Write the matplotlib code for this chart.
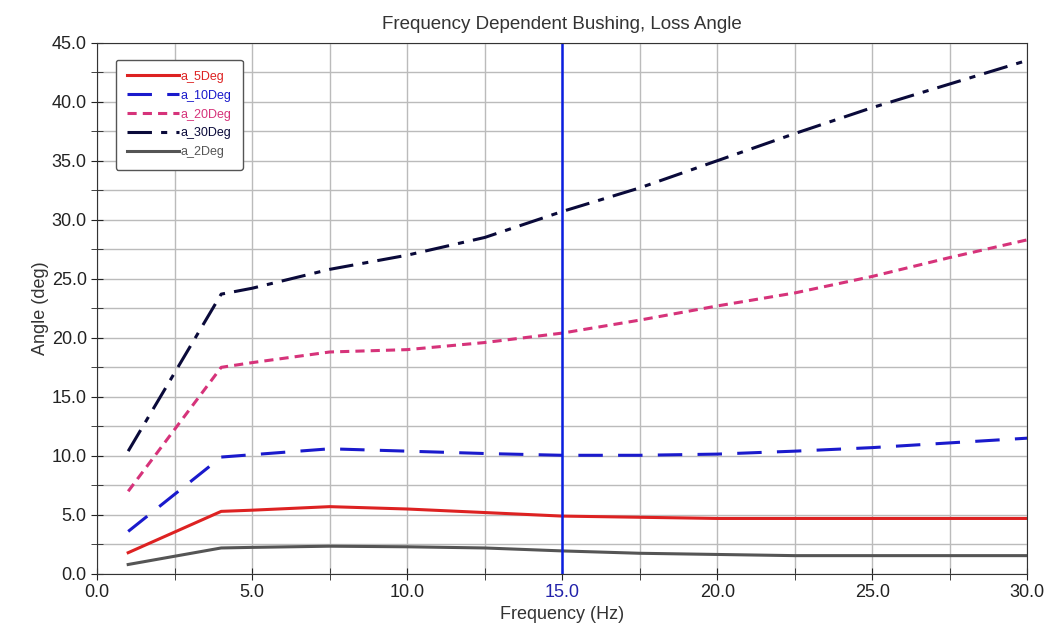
import numpy as np
import matplotlib.pyplot as plt
from matplotlib.ticker import MultipleLocator, FormatStrFormatter

plt.rcParams['font.family'] = ['Liberation Sans', 'DejaVu Sans']

# Datos
freq = [1.0, 4.0, 5.0, 7.5, 10.0, 12.5, 15.0, 17.5, 20.0, 22.5, 25.0, 27.5, 30.0]
a_5deg = [1.8, 5.3, 5.4, 5.7, 5.5, 5.2, 4.9, 4.8, 4.7, 4.7, 4.7, 4.7, 4.7]
a_10deg = [3.6, 9.9, 10.1, 10.6, 10.4, 10.2, 10.05, 10.05, 10.15, 10.4, 10.7, 11.1, 11.5]
a_20deg = [7.0, 17.5, 17.9, 18.8, 19.0, 19.6, 20.4, 21.5, 22.7, 23.8, 25.2, 26.8, 28.3]
a_30deg = [10.4, 23.7, 24.2, 25.8, 27.0, 28.5, 30.7, 32.7, 35.0, 37.3, 39.5, 41.5, 43.5]
a_2deg = [0.8, 2.2, 2.25, 2.35, 2.3, 2.2, 1.95, 1.75, 1.65, 1.55, 1.55, 1.55, 1.55]
marker_freq = 15.0

fig = plt.figure(figsize=(10.45, 6.37), dpi=100)
ax = fig.add_axes([0.093, 0.099, 0.890, 0.834])

ax.plot(freq, a_5deg, color='#dd2222', lw=2.2, label='a_5Deg')
ax.plot(freq, a_10deg, color='#1a1acc', lw=2.2, dashes=(8, 5), label='a_10Deg')
ax.plot(freq, a_20deg, color='#d6337a', lw=2.2, dashes=(3, 2), label='a_20Deg')
ax.plot(freq, a_30deg, color='#0a0a3a', lw=2.2, dashes=(8, 3, 2, 3), label='a_30Deg')
ax.plot(freq, a_2deg, color='#555555', lw=2.2, label='a_2Deg')
ax.axvline(marker_freq, color='#0a1ee0', lw=1.8)

ax.set_xlim(0, 30)
ax.set_ylim(0, 45)
ax.xaxis.set_major_locator(MultipleLocator(5))
ax.xaxis.set_minor_locator(MultipleLocator(2.5))
ax.yaxis.set_major_locator(MultipleLocator(5))
ax.yaxis.set_minor_locator(MultipleLocator(2.5))
ax.xaxis.set_major_formatter(FormatStrFormatter('%.1f'))
ax.yaxis.set_major_formatter(FormatStrFormatter('%.1f'))
ax.grid(True, which='both', color='#bbbbbb', lw=1)
ax.tick_params(which='both', direction='inout', length=8, labelsize=13, colors='#222222')
for lbl in ax.get_xticklabels():
    if lbl.get_text() == '15.0':
        lbl.set_color('#2222aa')
for s in ax.spines.values():
    s.set_color('#333333')

ax.set_title('Frequency Dependent Bushing, Loss Angle', fontsize=13.5, color='#333333', pad=10)
ax.set_xlabel('Frequency (Hz)', fontsize=13, color='#333333', labelpad=3)
ax.set_ylabel('Angle (deg)', fontsize=13, color='#333333', labelpad=2)

leg = ax.legend(loc='upper left', fontsize=9, handlelength=4.2, handletextpad=0.1,
                labelspacing=0.55, borderpad=0.9, fancybox=True, framealpha=1,
                edgecolor='#555555', bbox_to_anchor=(0.013, 0.98))
for txt, line in zip(leg.get_texts(), leg.get_lines()):
    txt.set_color(line.get_color())

plt.savefig('out.png')
